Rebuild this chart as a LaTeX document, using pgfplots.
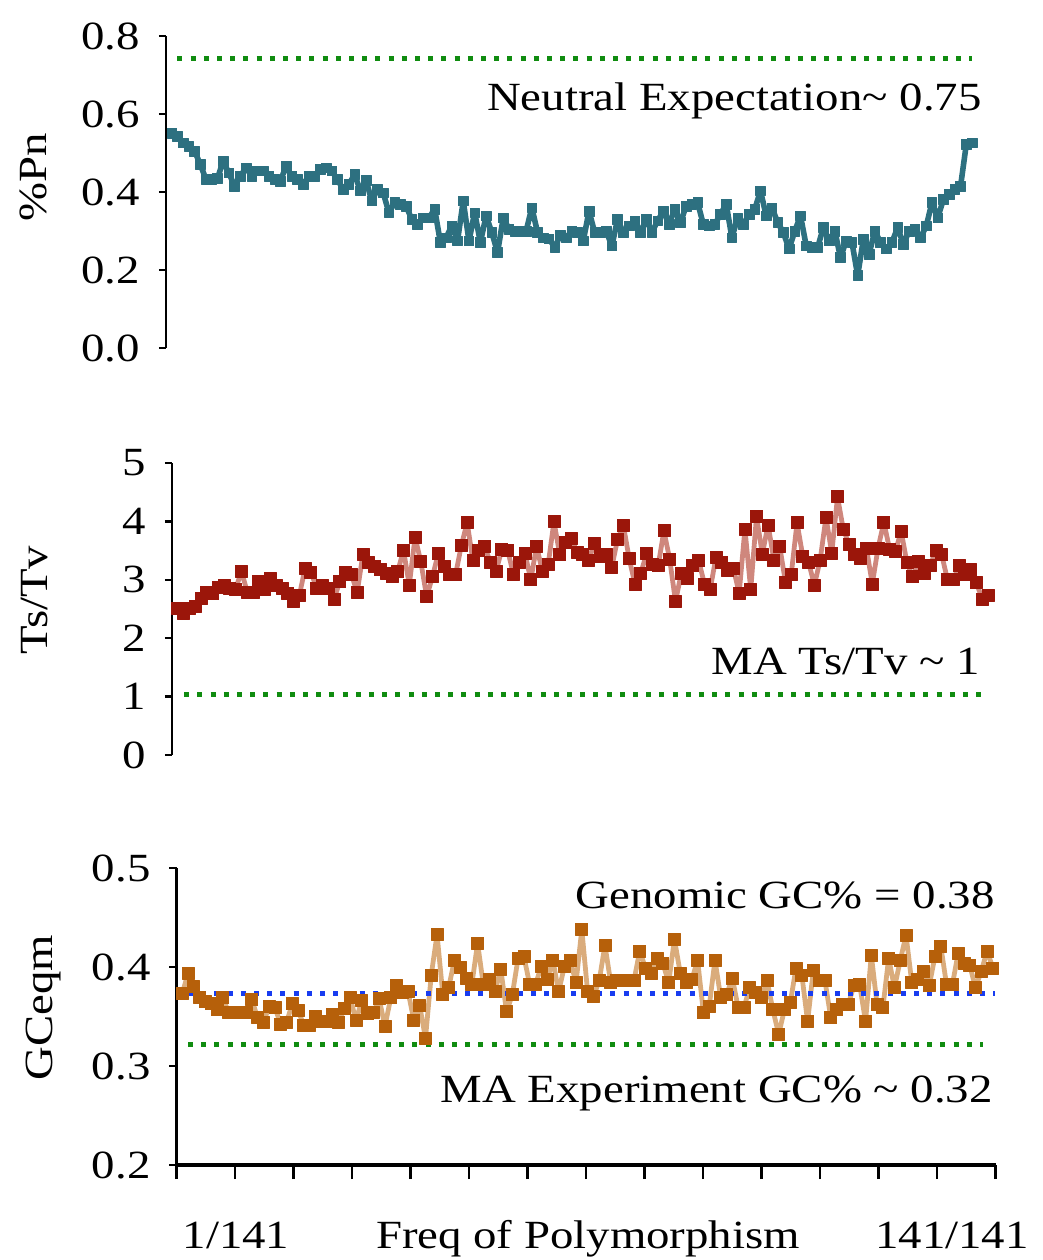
\documentclass[border=0pt]{standalone}
\usepackage{fontspec}
\setmainfont{Liberation Serif}[FakeStretch=1.17]
\usepackage{pgfplots}
\usepackage{pgfplotstable}
\pgfplotsset{compat=1.18}
\definecolor{pncol}{RGB}{45,112,128}
\definecolor{tsline}{RGB}{207,135,125}
\definecolor{tsmark}{RGB}{155,22,10}
\definecolor{gcline}{RGB}{218,172,124}
\definecolor{gcmark}{RGB}{182,96,10}
\definecolor{gdot}{RGB}{16,140,16}
\definecolor{bdot}{RGB}{24,60,240}

\pgfplotstableread{
x y
1 0.551
2 0.543
3 0.526
4 0.517
5 0.505
6 0.471
7 0.432
8 0.432
9 0.435
10 0.479
11 0.449
12 0.415
13 0.441
14 0.462
15 0.441
16 0.454
17 0.454
18 0.441
19 0.432
20 0.428
21 0.466
22 0.441
23 0.432
24 0.420
25 0.441
26 0.441
27 0.458
28 0.462
29 0.454
30 0.432
31 0.407
32 0.420
33 0.445
34 0.403
35 0.430
36 0.377
37 0.407
38 0.398
39 0.347
40 0.373
41 0.369
42 0.364
43 0.330
44 0.317
45 0.334
46 0.334
47 0.356
48 0.271
49 0.283
50 0.313
51 0.275
52 0.377
53 0.275
54 0.347
55 0.271
56 0.339
57 0.296
58 0.245
59 0.334
60 0.305
61 0.300
62 0.300
63 0.300
64 0.360
65 0.296
66 0.283
67 0.280
68 0.258
69 0.290
70 0.283
71 0.300
72 0.296
73 0.275
74 0.351
75 0.296
76 0.296
77 0.300
78 0.262
79 0.330
80 0.296
81 0.313
82 0.326
83 0.296
84 0.330
85 0.296
86 0.326
87 0.351
88 0.317
89 0.356
90 0.322
91 0.364
92 0.369
93 0.373
94 0.317
95 0.313
96 0.317
97 0.343
98 0.369
99 0.283
100 0.334
101 0.317
102 0.343
103 0.356
104 0.403
105 0.339
106 0.360
107 0.322
108 0.296
109 0.254
110 0.300
111 0.339
112 0.262
113 0.258
114 0.258
115 0.309
116 0.275
117 0.300
118 0.232
119 0.275
120 0.271
121 0.186
122 0.279
123 0.241
124 0.300
125 0.271
126 0.254
127 0.271
128 0.309
129 0.266
130 0.300
131 0.305
132 0.283
133 0.313
134 0.373
135 0.334
136 0.381
137 0.394
138 0.407
139 0.415
140 0.522
141 0.526
}\pnTable

\pgfplotstableread{
x y
1 2.51
2 2.43
3 2.51
4 2.54
5 2.69
6 2.78
7 2.76
8 2.87
9 2.90
10 2.86
11 2.84
12 3.15
13 2.79
14 2.78
15 2.97
16 2.84
17 3.02
18 2.91
19 2.86
20 2.77
21 2.63
22 2.73
23 3.20
24 3.13
25 2.86
26 2.91
27 2.86
28 2.67
29 2.97
30 3.13
31 3.09
32 2.79
33 3.44
34 3.29
35 3.23
36 3.17
37 3.11
38 3.05
39 3.14
40 3.51
41 2.91
42 3.73
43 3.31
44 2.71
45 3.05
46 3.45
47 3.23
48 3.09
49 3.09
50 3.59
51 3.98
52 3.33
53 3.51
54 3.58
55 3.30
56 3.15
57 3.52
58 3.51
59 3.09
60 3.29
61 3.45
62 3.00
63 3.58
64 3.14
65 3.26
66 4.00
67 3.43
68 3.64
69 3.71
70 3.47
71 3.43
72 3.34
73 3.63
74 3.40
75 3.43
76 3.22
77 3.70
78 3.93
79 3.36
80 2.93
81 3.11
82 3.45
83 3.27
84 3.24
85 3.84
86 3.35
87 2.63
88 3.11
89 3.02
90 3.24
91 3.33
92 2.93
93 2.84
94 3.39
95 3.30
96 3.16
97 3.20
98 2.77
99 3.87
100 2.83
101 4.09
102 3.44
103 3.94
104 3.34
105 3.58
106 2.96
107 3.09
108 3.98
109 3.40
110 3.30
111 2.91
112 3.34
113 4.07
114 3.46
115 4.42
116 3.86
117 3.61
118 3.44
119 3.37
120 3.54
121 2.93
122 3.54
123 3.99
124 3.52
125 3.49
126 3.83
127 3.29
128 3.05
129 3.31
130 3.11
131 3.24
132 3.51
133 3.43
134 3.00
135 3.00
136 3.24
137 3.09
138 3.17
139 2.95
140 2.67
141 2.73
}\tsTable

\pgfplotstableread{
x y
1 0.373
2 0.394
3 0.380
4 0.369
5 0.365
6 0.363
7 0.357
8 0.369
9 0.354
10 0.354
11 0.354
12 0.354
13 0.367
14 0.349
15 0.344
16 0.360
17 0.359
18 0.342
19 0.344
20 0.363
21 0.356
22 0.341
23 0.341
24 0.350
25 0.345
26 0.345
27 0.352
28 0.344
29 0.358
30 0.369
31 0.346
32 0.366
33 0.353
34 0.354
35 0.368
36 0.340
37 0.369
38 0.381
39 0.374
40 0.375
41 0.346
42 0.361
43 0.328
44 0.392
45 0.433
46 0.372
47 0.379
48 0.407
49 0.400
50 0.389
51 0.382
52 0.424
53 0.382
54 0.387
55 0.375
56 0.398
57 0.355
58 0.372
59 0.409
60 0.411
61 0.382
62 0.382
63 0.401
64 0.387
65 0.407
66 0.375
67 0.401
68 0.407
69 0.384
70 0.438
71 0.375
72 0.370
73 0.386
74 0.422
75 0.384
76 0.386
77 0.386
78 0.386
79 0.386
80 0.416
81 0.399
82 0.394
83 0.409
84 0.404
85 0.384
86 0.428
87 0.394
88 0.384
89 0.387
90 0.407
91 0.354
92 0.360
93 0.407
94 0.369
95 0.372
96 0.389
97 0.359
98 0.359
99 0.379
100 0.374
101 0.369
102 0.386
103 0.357
104 0.332
105 0.357
106 0.364
107 0.399
108 0.392
109 0.345
110 0.397
111 0.386
112 0.386
113 0.349
114 0.357
115 0.362
116 0.362
117 0.381
118 0.382
119 0.345
120 0.412
121 0.362
122 0.359
123 0.409
124 0.379
125 0.407
126 0.432
127 0.384
128 0.387
129 0.396
130 0.381
131 0.411
132 0.421
133 0.382
134 0.382
135 0.414
136 0.404
137 0.402
138 0.379
139 0.396
140 0.416
141 0.399
}\gcTable

\pgfplotsset{
  panel/.style={
    scale only axis, clip=false, anchor=south west,
    axis y line*=left,
    tick align=outside, major tick length=3.5pt,
    axis line style={line width=1.25pt, black},
    every tick/.style={black, line width=1.25pt},
    /pgf/number format/assume math mode=true,
    tick label style={font=\fontsize{20}{24}\selectfont},
    label style={font=\fontsize{20}{24}\selectfont},
    xmin=0, xmax=141,
  },
  dotline/.style={line width=2.5pt, dash pattern=on 2.5pt off 4.1pt, line cap=butt},
}

\begin{document}
\begin{tikzpicture}[font=\fontsize{20}{24}\selectfont]
\useasboundingbox (0,0) rectangle (521.5pt,-630pt);

% Top panel: %Pn
\begin{axis}[panel, axis x line=none,
  at={(83pt,-174pt)}, width=403pt, height=156pt,
  ymin=0, ymax=0.8, ytick={0,0.2,0.4,0.6,0.8},
  yticklabel style={xshift=-6pt, /pgf/number format/fixed, /pgf/number format/fixed zerofill, /pgf/number format/precision=1},
  ylabel={\%Pn},
  ylabel style={at={(axis description cs:-0.165,0.548)}, anchor=center},
]
\addplot[gdot, dotline] coordinates {(2,0.743) (141,0.743)};
\addplot[pncol, line width=2.8pt, line join=round, mark=square*, mark size=2.4pt, mark options={line width=0.3pt}] table {\pnTable};
\end{axis}

% Middle panel: Ts/Tv
\begin{axis}[panel, axis x line=none,
  at={(86pt,-377.5pt)}, width=408pt, height=146pt,
  ymin=0, ymax=5, ytick={0,1,2,3,4,5},
  yticklabel style={xshift=-6pt},
  ylabel={Ts/Tv},
  ylabel style={at={(axis description cs:-0.168,0.531)}, anchor=center},
]
\addplot[gdot, dotline] coordinates {(2.1,1.03) (140.5,1.03)};
\addplot[tsline, line width=2.4pt, line join=round, mark=square*, mark size=3pt, mark options={draw=tsmark, fill=tsmark, line width=0.4pt, rounded corners=1pt}] table {\tsTable};
\end{axis}

% Bottom panel: GCeqm (data, y axis)
\begin{axis}[panel, axis x line=none,
  at={(88.25pt,-582.5pt)}, width=409.5pt, height=148.5pt,
  xmax=141.45,
  ymin=0.2, ymax=0.5, ytick={0.2,0.3,0.4,0.5},
  yticklabel style={xshift=-6pt, /pgf/number format/fixed, /pgf/number format/fixed zerofill, /pgf/number format/precision=1},
  ylabel={GCeqm},
  ylabel style={at={(axis description cs:-0.162,0.529)}, anchor=center},
]
\addplot[gdot, dotline] coordinates {(2,0.322) (139.3,0.322)};
\addplot[gcline, line width=2.4pt, line join=round, mark=square*, mark size=3pt, mark options={draw=gcmark, fill=gcmark, line width=0.4pt, rounded corners=1pt}] table {\gcTable};
\addplot[bdot, dotline] coordinates {(2,0.373) (141.3,0.373)};
\end{axis}

% Bottom panel: x axis with longer ticks
\begin{axis}[scale only axis, anchor=south west,
  at={(88.25pt,-582.5pt)}, width=409.5pt, height=148.5pt,
  axis y line=none, axis x line*=bottom,
  xmin=0, xmax=141.45, ymin=0.2, ymax=0.5,
  x axis line style={line width=2pt, black},
  tick align=outside, major tick length=7pt,
  every tick/.style={black, line width=1.1pt},
  xtick={0,10.104,20.207,30.311,40.414,50.518,60.621,70.725,80.829,90.932,101.036,111.139,121.243,131.346,141.45},
  xticklabels={},
]
\end{axis}

\node[anchor=base east, inner sep=0pt] at (491pt,-55pt) {Neutral Expectation\textasciitilde{} 0.75};
\node[anchor=base east, inner sep=0pt] at (490pt,-337pt) {MA Ts/Tv \textasciitilde{} 1};
\node[anchor=base east, inner sep=0pt] at (497.5pt,-454pt) {Genomic GC\% = 0.38};
\node[anchor=base east, inner sep=0pt] at (496.5pt,-551pt) {MA Experiment GC\% \textasciitilde{} 0.32};

\node[anchor=base, inner sep=0pt] at (118pt,-624pt) {1/141};
\node[anchor=base, inner sep=0pt] at (294pt,-624pt) {Freq of Polymorphism};
\node[anchor=base, inner sep=0pt] at (476pt,-624pt) {141/141};
\end{tikzpicture}
\end{document}
